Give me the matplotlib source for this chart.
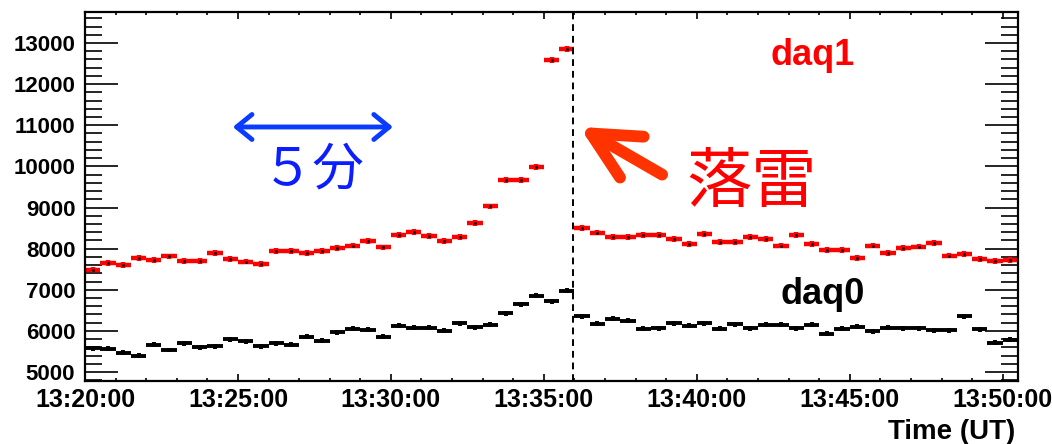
#daq0 / daq1 count rates around the lightning strike
import numpy as np
import matplotlib.pyplot as plt
from matplotlib.ticker import MultipleLocator, FuncFormatter

#start of the time axis and bin width (seconds)
t0_h, t0_m = 13, 20
bin_sec = 30
strike_sec = 957   # dashed line, about 13:35:57

#counts per 30 s bin
daq1 = [7490, 7650, 7595, 7770, 7715, 7810, 7690, 7690, 7890, 7750,
        7685, 7625, 7950, 7940, 7895, 7950, 8010, 8075, 8180, 8030,
        8325, 8400, 8300, 8180, 8275, 8620, 9025, 9660, 9660, 9985,
        12585, 12855, 8505, 8390, 8275, 8275, 8335, 8335, 8230, 8120,
        8360, 8170, 8170, 8290, 8235, 8075, 8340, 8115, 7965, 7965,
        7765, 8075, 7885, 8015, 8050, 8130, 7830, 7870, 7750, 7690, 7725]
daq0 = [5575, 5560, 5470, 5390, 5660, 5535, 5700, 5600, 5620, 5795,
        5750, 5620, 5700, 5660, 5860, 5765, 5965, 6050, 6025, 5860,
        6120, 6080, 6080, 6000, 6185, 6090, 6145, 6430, 6650, 6860,
        6715, 6975, 6350, 6170, 6295, 6250, 6050, 6065, 6185, 6120,
        6185, 6050, 6165, 6065, 6145, 6145, 6065, 6145, 5925, 6050,
        6105, 5985, 6080, 6065, 6065, 6010, 6010, 6350, 6040, 5715, 5780]

x = np.arange(len(daq1)) * bin_sec + bin_sec / 2

def fmt_time(s, pos):
    s = int(round(s))
    tot = t0_h * 3600 + t0_m * 60 + s
    return "%d:%02d:%02d" % (tot // 3600, (tot % 3600) // 60, tot % 60)

fig = plt.figure(figsize=(10.52, 4.44), dpi=100)
ax = fig.add_axes([85/1052, 1-381/444, (1018-85)/1052, (381-12)/444])

ax.errorbar(x, daq1, xerr=bin_sec/2, yerr=70, fmt='none', ecolor='red',
            elinewidth=3.2, capsize=0)
ax.plot(x, daq1, 'k.', ms=2)
ax.errorbar(x, daq0, xerr=bin_sec/2, yerr=60, fmt='none', ecolor='black',
            elinewidth=2.8, capsize=0)

ax.axvline(strike_sec, color='black', lw=1.4, dashes=(3.5, 2.5))

ax.set_xlim(0, 1830)
ax.set_ylim(4781, 13754)
ax.xaxis.set_major_locator(MultipleLocator(300))
ax.xaxis.set_minor_locator(MultipleLocator(60))
ax.xaxis.set_major_formatter(FuncFormatter(fmt_time))
ax.yaxis.set_major_locator(MultipleLocator(1000))
ax.yaxis.set_minor_locator(MultipleLocator(200))

ax.tick_params(which='both', direction='in', top=True, right=True, width=1.2)
ax.tick_params(axis='y', which='major', length=24, pad=7)
ax.tick_params(axis='y', which='minor', length=12.5)
ax.tick_params(axis='x', which='major', length=5, pad=5)
ax.tick_params(axis='x', which='minor', length=2.5)
for sp in ax.spines.values():
    sp.set_linewidth(1.6)
for lab in ax.get_yticklabels():
    lab.set_fontfamily('Liberation Sans'); lab.set_fontweight('bold'); lab.set_fontsize(16)
for lab in ax.get_xticklabels():
    lab.set_fontfamily('Liberation Sans'); lab.set_fontweight('bold'); lab.set_fontsize(18)

fig.text(1015/1052, 1-432/444, "Time (UT)", ha='right', va='center',
         family='Liberation Sans', weight='bold', fontsize=20)

ax.text(1428, 12708, "daq1", color='red', ha='center', va='center',
        family='Liberation Sans', weight='bold', fontsize=26)
ax.text(1446, 6875, "daq0", color='black', ha='center', va='center',
        family='Liberation Sans', weight='bold', fontsize=26)

#annotations
ax.annotate("", xy=(604, 10958), xytext=(290, 10958),
            arrowprops=dict(arrowstyle='<->,head_length=1.1,head_width=0.9',
                            color='#0a3cff', lw=3.5, shrinkA=0, shrinkB=0))
ax.text(448, 9913, "５分", color='#0a1eff', ha='center', va='center',
        family=['Noto Sans CJK JP', 'DejaVu Sans'], fontsize=37)
ax.annotate("", xy=(970, 10960), xytext=(1132, 9800),
            arrowprops=dict(arrowstyle='->,head_length=3.4,head_width=1.7',
                            color='#ff3300', lw=8.5, capstyle='round',
                            joinstyle='round', shrinkA=0, shrinkB=0))
ax.text(1308, 9580, "落雷", color='red', ha='center', va='center',
        family=['Noto Sans CJK JP', 'DejaVu Sans'], fontsize=47)

plt.savefig("out.png", dpi=100)
